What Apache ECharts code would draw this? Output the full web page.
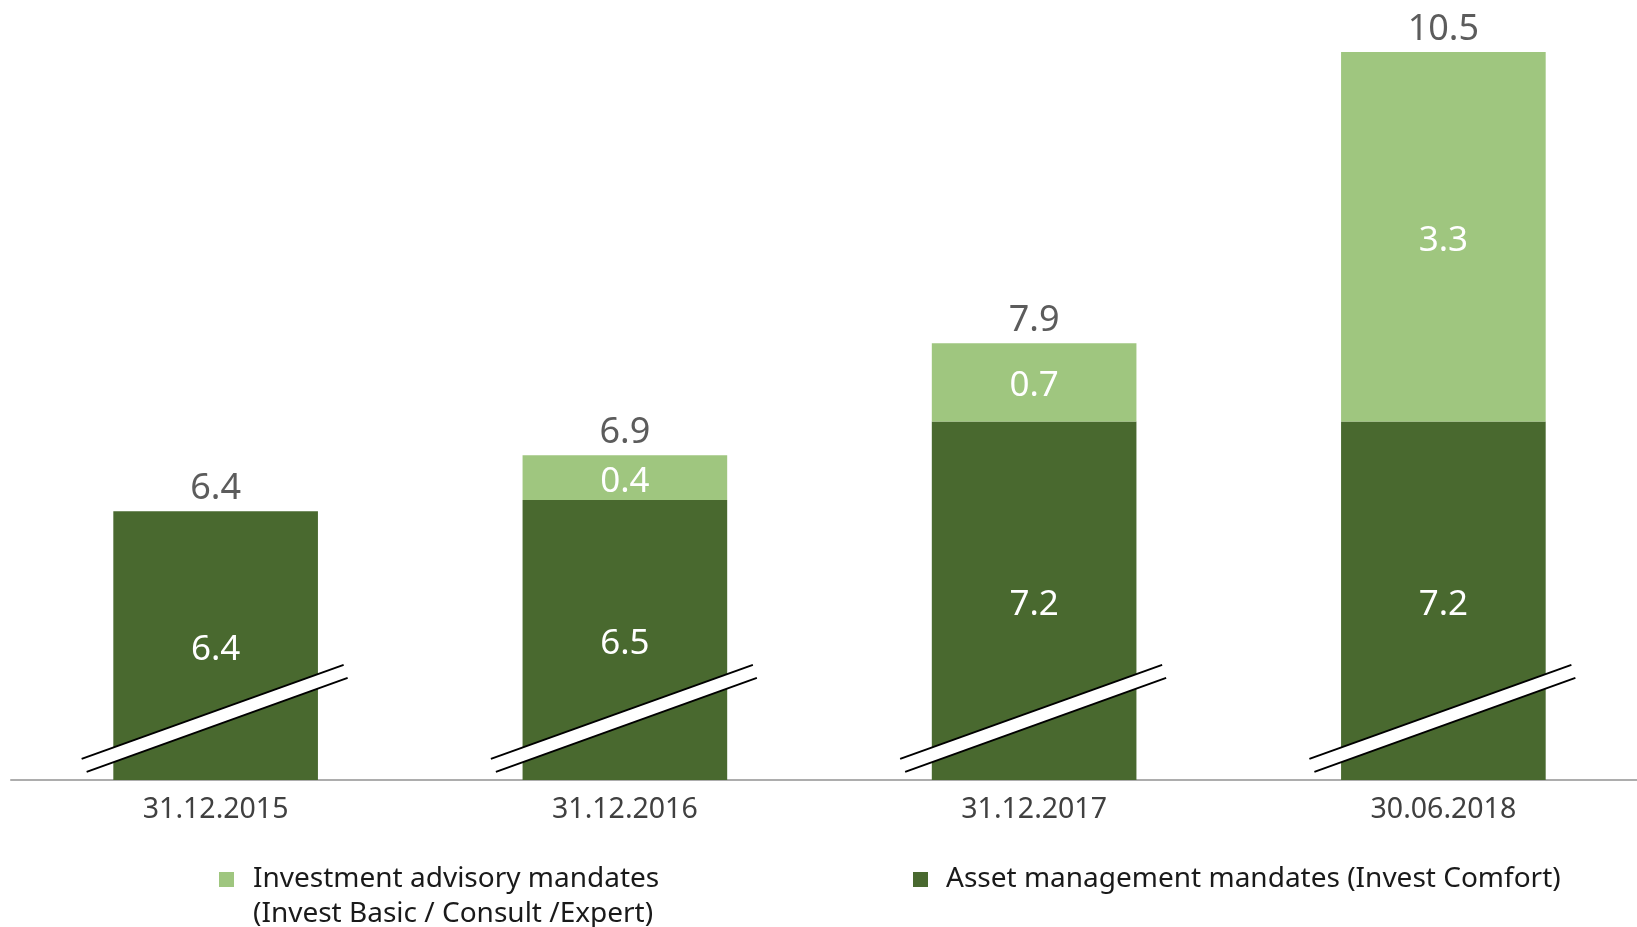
<!DOCTYPE html>
<html>
<head>
<meta charset="utf-8">
<script src="https://cdn.jsdelivr.net/npm/echarts@6/dist/echarts.min.js"></script>
<style>
html,body{margin:0;padding:0;background:#fff;}
#chart{width:1637px;height:927px;}
</style>
</head>
<body>
<div id="chart"></div>
<script>
const categories = ['31.12.2015', '31.12.2016', '31.12.2017', '30.06.2018'];
const assetManagement = [6.4, 6.5, 7.2, 7.2];
const investmentAdvisory = [0, 0.4, 0.7, 3.3];
const totals = [6.4, 6.9, 7.9, 10.5];
const axisMin = 4;
const axisMax = 10.5;
const breakLevel = 4.55;
const seriesNames = ['Investment advisory mandates', 'Asset management mandates (Invest Comfort)'];
const legendSecondLine = '(Invest Basic / Consult /Expert)';

const DARK = '#49692F';
const LIGHT = '#9FC67F';
const FONT = 'Noto Sans';

const chart = echarts.init(document.getElementById('chart'), null, {renderer: 'canvas'});

const breakData = categories.map((c, i) => [i, breakLevel]);

const option = {
  animation: false,
  grid: {left: 11, width: 1637, top: 52, bottom: 147, containLabel: false, outerBoundsMode: 'none'},
  legend: [
    {
      left: 219, top: 827, padding: 0,
      itemWidth: 15, itemHeight: 15, icon: 'rect',
      data: [{name: seriesNames[0]}],
      formatter: function (n) { return ' \n' + n + '\n' + legendSecondLine; },
      textStyle: {fontFamily: FONT, fontSize: 28, color: '#1a1a1a', lineHeight: 35, padding: [0, 0, 0, 14]},
      selectedMode: false
    },
    {
      left: 913, top: 862, padding: 0,
      itemWidth: 15, itemHeight: 15, icon: 'rect',
      data: [{name: seriesNames[1]}],
      textStyle: {fontFamily: FONT, fontSize: 28, color: '#1a1a1a', lineHeight: 35, padding: [0, 0, 0, 13]},
      selectedMode: false
    }
  ],
  xAxis: {
    type: 'category',
    data: categories,
    axisLine: {show: true, lineStyle: {color: '#ADADAD', width: 2}},
    axisTick: {show: false},
    axisLabel: {fontFamily: FONT, fontSize: 28.5, color: '#404040', margin: 15}
  },
  yAxis: {
    type: 'value', min: axisMin, max: axisMax, show: false,
    splitLine: {show: false}
  },
  series: [
    {
      name: seriesNames[1], type: 'bar', stack: 'total', barWidth: '50%',
      data: assetManagement,
      itemStyle: {color: DARK},
      label: {show: true, position: 'inside', offset: [0, 4], color: '#fff', fontFamily: FONT, fontSize: 35}
    },
    {
      name: seriesNames[0], type: 'bar', stack: 'total', barWidth: '50%',
      data: investmentAdvisory,
      itemStyle: {color: LIGHT},
      label: {show: true, position: 'inside', offset: [0, 4], color: '#fff', fontFamily: FONT, fontSize: 35,
        formatter: function (p) { return p.value ? String(p.value) : ''; }}
    },
    {
      name: 'total', type: 'scatter', data: totals, symbolSize: 1,
      itemStyle: {color: 'rgba(0,0,0,0)'},
      label: {show: true, position: 'top', distance: 6, offset: [0, 2], color: '#333', fontFamily: FONT, fontSize: 36},
      z: 5, silent: true
    },
    {
      name: 'break', type: 'custom', data: breakData, z: 10, silent: true,
      renderItem: function (params, api) {
        const p = api.coord([api.value(0), api.value(1)]);
        const x = p[0], y = p[1];
        const a1 = [x - 134, y + 40.5], a2 = [x + 128, y - 53.5];
        const b1 = [x - 129, y + 53.5], b2 = [x + 132, y - 40.5];
        return {
          type: 'group',
          children: [
            {type: 'polygon', shape: {points: [a1, a2, b2, b1]}, style: {fill: '#fff'}},
            {type: 'line', shape: {x1: a1[0], y1: a1[1], x2: a2[0], y2: a2[1]}, style: {stroke: '#000', lineWidth: 2}},
            {type: 'line', shape: {x1: b1[0], y1: b1[1], x2: b2[0], y2: b2[1]}, style: {stroke: '#000', lineWidth: 2}}
          ]
        };
      }
    }
  ]
};
chart.setOption(option);
</script>
</body>
</html>
